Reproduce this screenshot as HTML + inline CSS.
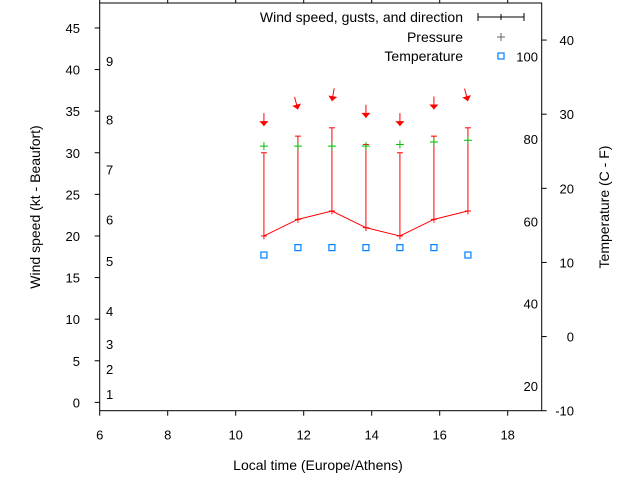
<!DOCTYPE html>
<html><head><meta charset="utf-8"><style>
body{margin:0;background:#fff}
svg text{font-family:"Liberation Sans",sans-serif;fill:#000}
</style></head><body>
<svg id="chart" width="640" height="480" viewBox="0 0 640 480" xmlns="http://www.w3.org/2000/svg">
<rect x="0" y="0" width="640" height="480" fill="#fff"/>
<g id="axes"></g><g id="marks"></g>
<text x="40" y="207" font-size="14" text-anchor="middle" transform="rotate(-90 40 207)">Wind speed (kt - Beaufort)</text>
<text x="609" y="207" font-size="14" text-anchor="middle" transform="rotate(-90 609 207)">Temperature (C - F)</text>
<text x="318" y="470" font-size="14" text-anchor="middle">Local time (Europe/Athens)</text>
<g>
<text x="463" y="22" font-size="14" text-anchor="end">Wind speed, gusts, and direction</text>
<g stroke="#000" stroke-width="1"><line x1="478" y1="17" x2="524" y2="17"/><line x1="478" y1="13" x2="478" y2="21"/><line x1="524" y1="13" x2="524" y2="21"/><line x1="501" y1="14" x2="501" y2="20"/></g>
<text x="463" y="42" font-size="14" text-anchor="end">Pressure</text>
<g stroke="#666"><line x1="497" y1="37" x2="505" y2="37"/><line x1="501" y1="33" x2="501" y2="41"/></g>
<text x="463" y="61" font-size="14" text-anchor="end">Temperature</text>
<rect x="498" y="53" width="6" height="6" fill="none" stroke="#0080ff" stroke-width="1.2"/>
</g>
</svg>
<script>
const times=[10.83,11.83,12.83,13.83,14.83,15.83,16.83];
const wind=[20,22,23,21,20,22,23];
const windLow=[19.6,21.6,22.6,20.6,19.6,21.6,22.6];
const gusts=[30,32,33,31,30,32,33];
const direction=[0,345,10,0,0,0,345];
const pressure=[30.8,30.8,30.8,30.8,31.0,31.3,31.5];
const temperature=[11,12,12,12,12,12,11];
const xTicks=[6,8,10,12,14,16,18];
const yTicks=[0,5,10,15,20,25,30,35,40,45];
const y2Ticks=[-10,0,10,20,30,40];
const fahrenheitLabels=[20,40,60,80,100];
const beaufortLabels=[1,2,3,4,5,6,7,8,9];
const beaufortKt=[1,4,7,11,17,22,28,34,41];

const L=99.7,R=541.7,T=3,B=410.7;
const X=v=>L+(v-6)*(R-L)/13;
const Y=v=>B-(v+1)*(B-T)/49;
const Y2=v=>B-(v+10)*(B-T)/55;
const NS="http://www.w3.org/2000/svg";
function mk(tag,attrs,parent){const e=document.createElementNS(NS,tag);for(const k in attrs)e.setAttribute(k,attrs[k]);parent.appendChild(e);return e;}
const ax=document.getElementById('axes'),mg=document.getElementById('marks');

let e=mk('rect',{x:L,y:T,width:R-L,height:B-T,fill:'none',stroke:'#000','stroke-width':1},ax);


xTicks.forEach(t=>{
  let l=mk('line',{x1:X(t),y1:B,x2:X(t),y2:B+5,stroke:'#000'},ax);
  
  
  let l2=mk('line',{x1:X(t),y1:T,x2:X(t),y2:T-5,stroke:'#000'},ax);
  
  
  let tx=mk('text',{x:X(t),y:B+29,'font-size':13,'text-anchor':'middle'},ax);tx.textContent=t;
  
  
});
yTicks.forEach(t=>{
  let l=mk('line',{x1:L,y1:Y(t),x2:L-5,y2:Y(t),stroke:'#000'},ax);
  
  
  let tx=mk('text',{x:80,y:Y(t)+5,'font-size':13,'text-anchor':'end'},ax);tx.textContent=t;
  
  
});
y2Ticks.forEach(t=>{
  let l=mk('line',{x1:R,y1:Y2(t),x2:R+5,y2:Y2(t),stroke:'#000'},ax);
  
  
  let tx=mk('text',{x:574,y:Y2(t)+5,'font-size':13,'text-anchor':'end'},ax);tx.textContent=t;
  
  
});
fahrenheitLabels.forEach(f=>{
  let tx=mk('text',{x:538,y:Y2((f-32)*5/9)+5,'font-size':13,'text-anchor':'end'},ax);tx.textContent=f;
  
  
});
beaufortLabels.forEach((b,i)=>{
  let tx=mk('text',{x:106,y:Y(beaufortKt[i])+5,'font-size':13},ax);tx.textContent=b;
  
  
});

let pl=mk('polyline',{points:times.map((t,i)=>X(t)+','+Y(wind[i])).join(' '),fill:'none',stroke:'#f00','stroke-width':1},mg);


times.forEach((t,i)=>{
  const x=X(t);
  let g=mk('g',{stroke:'#f00','stroke-width':1},mg);
  
  
  mk('line',{x1:x,y1:Y(windLow[i]),x2:x,y2:Y(gusts[i])},g);
  mk('line',{x1:x-3,y1:Y(gusts[i]),x2:x+3,y2:Y(gusts[i])},g);
  mk('line',{x1:x-3,y1:Y(wind[i]),x2:x+3,y2:Y(wind[i])},g);
  const d=direction[i]*Math.PI/180,vx=-Math.sin(d),vy=Math.cos(d);
  const tipX=x,tipY=Y(gusts[i]+3.2);
  const len=13,hl=5,hw=4.5;
  let a=mk('g',{},mg);
  
  
  mk('line',{x1:tipX-len*vx,y1:tipY-len*vy,x2:tipX,y2:tipY,stroke:'#f00'},a);
  const bx=tipX-hl*vx,by=tipY-hl*vy;
  mk('polygon',{points:`${tipX},${tipY} ${bx-hw*vy},${by+hw*vx} ${bx+hw*vy},${by-hw*vx}`,fill:'#f00'},a);
  let p=mk('g',{stroke:'#00c000'},mg);
  
  
  mk('line',{x1:x-4,y1:Y(pressure[i]),x2:x+4,y2:Y(pressure[i])},p);
  mk('line',{x1:x,y1:Y(pressure[i])-4,x2:x,y2:Y(pressure[i])+4},p);
  let s=mk('rect',{x:x-3,y:Y2(temperature[i])-3,width:6,height:6,fill:'none',stroke:'#0080ff','stroke-width':1.2},mg);
  
  
});
</script>
</body></html>
